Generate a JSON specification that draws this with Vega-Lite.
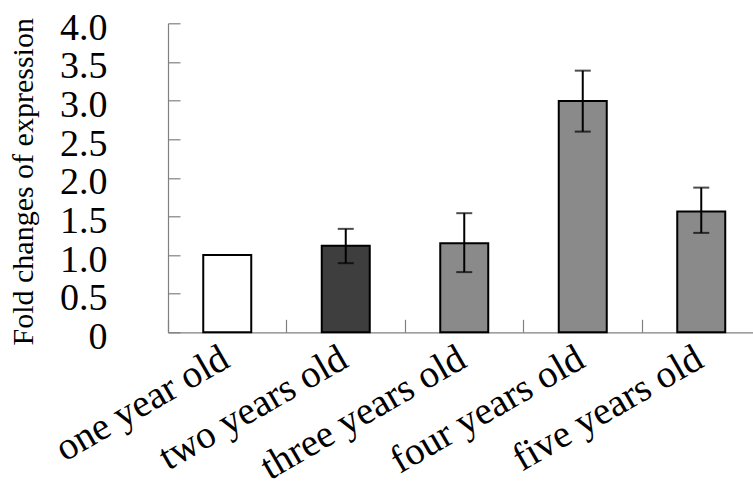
{
  "$schema": "https://vega.github.io/schema/vega-lite/v6.json",
  "width": 585,
  "height": 309,
  "autosize": "none",
  "padding": {"left": 168, "top": 23.3, "right": 0, "bottom": 156.7},
  "background": "white",
  "config": {
    "view": {"stroke": null},
    "axis": {"labelOverlap": false},
    "axisY": {
      "grid": false, "labelOverlap": false, "labelBound": false, "labelFlush": false,
      "domainColor": "#808080", "domainWidth": 1.2,
      "tickColor": "#808080", "tickWidth": 1.2, "tickSize": -12,
      "labelFont": "Liberation Serif", "labelFontSize": 38, "labelColor": "black",
      "labelPadding": 73, "labelOffset": 5, "labelBaseline": "middle",
      "titleFont": "Liberation Serif", "titleFontSize": 30, "titleFontWeight": "normal",
      "titleColor": "black", "titleAngle": -90, "titleX": -136, "titleY": 158,
      "titleAlign": "center", "titleBaseline": "alphabetic"
    }
  },
  "data": {"values": [
    {"age": "one year old", "fold": 1.0, "low": null, "high": null},
    {"age": "two years old", "fold": 1.119, "low": 0.895, "high": 1.339},
    {"age": "three years old", "fold": 1.154, "low": 0.779, "high": 1.542},
    {"age": "four years old", "fold": 2.995, "low": 2.598, "high": 3.387},
    {"age": "five years old", "fold": 1.563, "low": 1.287, "high": 1.873}
  ]},
  "encoding": {
    "x": {
      "field": "age", "type": "nominal", "sort": null,
      "scale": {"range": [0, 592.5], "paddingInner": 0, "paddingOuter": 0},
      "axis": {
        "title": null,
        "bandPosition": 0,
        "domainColor": "#808080", "domainWidth": 1.2,
        "tickColor": "#808080", "tickWidth": 1.2, "tickSize": -13,
        "labelAngle": -30, "labelAlign": "right", "labelBaseline": "top",
        "labelFont": "Liberation Serif", "labelFontSize": 39, "labelColor": "black",
        "labelPadding": 19, "labelOffset": -11, "labelOverlap": false, "labelBound": false,
        "labelLimit": 0
      }
    }
  },
  "layer": [
    {
      "mark": {"type": "bar", "width": {"band": 0.405}, "stroke": "black", "strokeWidth": 2},
      "encoding": {
        "y": {
          "field": "fold", "type": "quantitative",
          "scale": {"domain": [0, 4], "nice": false},
          "axis": {
            "values": [0, 0.5, 1, 1.5, 2, 2.5, 3, 3.5, 4],
            "labelExpr": "datum.value == 0 ? '0' : format(datum.value, '.1f')",
            "labelOverlap": false, "labelPadding": 73, "tickSize": -12,
            "title": "Fold changes of expression"
          }
        },
        "fill": {
          "field": "age", "type": "nominal", "legend": null,
          "scale": {
            "domain": ["one year old", "two years old", "three years old", "four years old", "five years old"],
            "range": ["#ffffff", "#3e3e3e", "#8a8a8a", "#8a8a8a", "#8a8a8a"]
          }
        }
      }
    },
    {
      "transform": [{"filter": "datum.low != null"}],
      "mark": {"type": "rule", "color": "black", "strokeWidth": 2},
      "encoding": {
        "y": {
          "field": "low", "type": "quantitative",
          "axis": {
            "values": [0, 0.5, 1, 1.5, 2, 2.5, 3, 3.5, 4],
            "labelExpr": "datum.value == 0 ? '0' : format(datum.value, '.1f')",
            "labelOverlap": false, "labelPadding": 73, "tickSize": -12,
            "title": "Fold changes of expression"
          }
        },
        "y2": {"field": "high"}
      }
    },
    {
      "transform": [{"filter": "datum.low != null"}],
      "mark": {"type": "tick", "color": "black", "thickness": 2, "size": 16, "orient": "horizontal"},
      "encoding": {
        "y": {
          "field": "low", "type": "quantitative",
          "axis": {
            "values": [0, 0.5, 1, 1.5, 2, 2.5, 3, 3.5, 4],
            "labelExpr": "datum.value == 0 ? '0' : format(datum.value, '.1f')",
            "labelOverlap": false, "labelPadding": 73, "tickSize": -12,
            "title": "Fold changes of expression"
          }
        }
      }
    },
    {
      "transform": [{"filter": "datum.low != null"}],
      "mark": {"type": "tick", "color": "black", "thickness": 2, "size": 16, "orient": "horizontal"},
      "encoding": {
        "y": {
          "field": "high", "type": "quantitative",
          "axis": {
            "values": [0, 0.5, 1, 1.5, 2, 2.5, 3, 3.5, 4],
            "labelExpr": "datum.value == 0 ? '0' : format(datum.value, '.1f')",
            "labelOverlap": false, "labelPadding": 73, "tickSize": -12,
            "title": "Fold changes of expression"
          }
        }
      }
    }
  ]
}
